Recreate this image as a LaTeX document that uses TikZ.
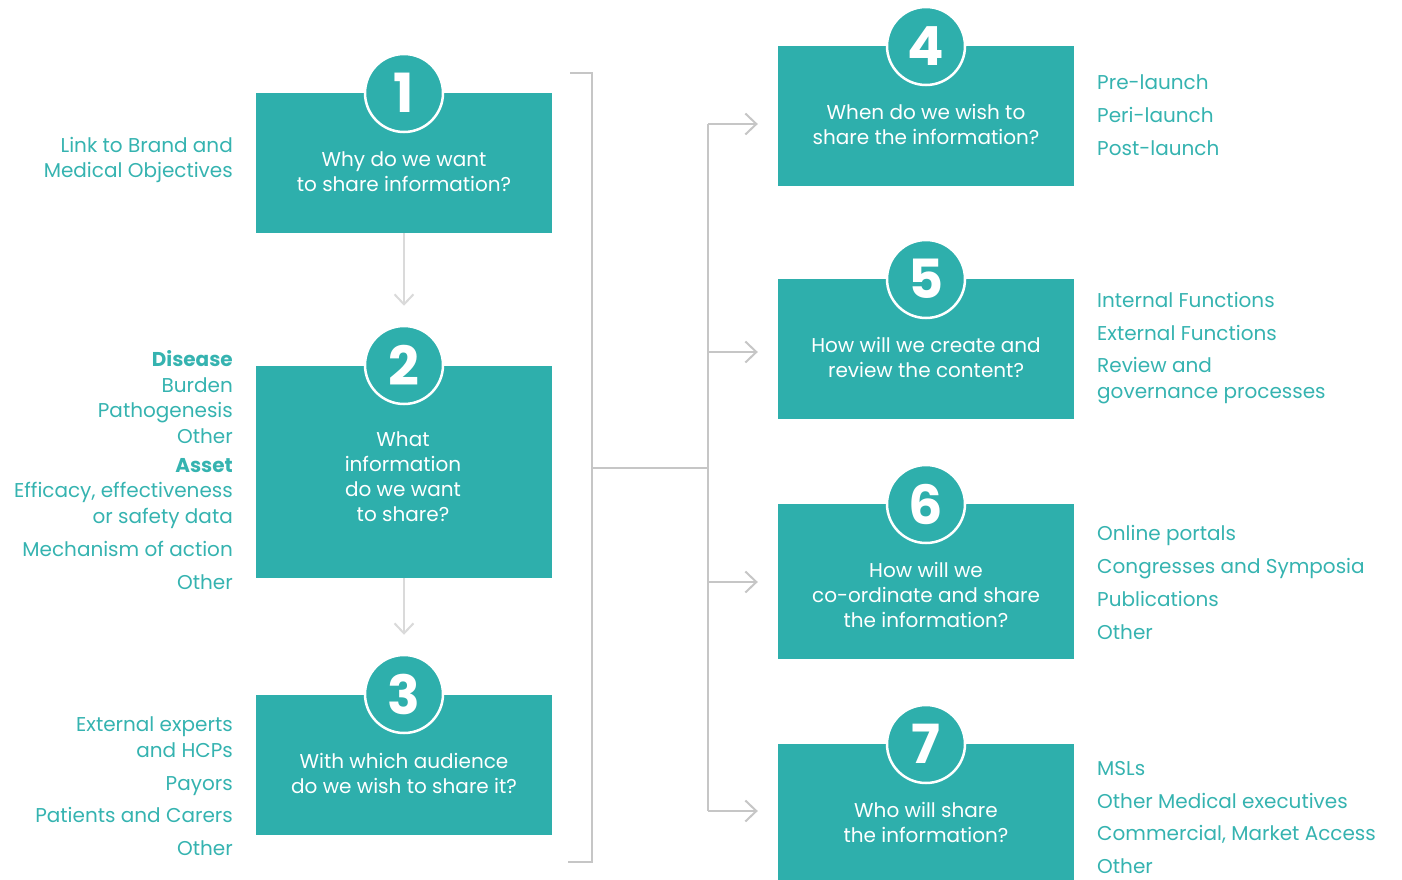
\documentclass[tikz,border=0pt]{standalone}
\usepackage{fontspec}
\setmainfont{Poppins}
\usetikzlibrary{arrows.meta,calc}
\definecolor{teal1}{HTML}{2EAFAC}
\definecolor{tealtxt}{HTML}{35B3B0}
\definecolor{linegray}{HTML}{C6C6C6}
\definecolor{lightgray2}{HTML}{DADADA}
\begin{document}
\begin{tikzpicture}[x=1pt,y=-1pt,
  qbox/.style={fill=teal1, draw=none, minimum width=296pt, inner sep=0pt},
  qtext/.style={text=white, align=center, font=\fontsize{20}{25}\selectfont, inner sep=0pt},
  numcirc/.style={circle, fill=teal1, draw=white, line width=2.5pt, minimum size=78pt, inner sep=0pt, text=white, font=\fontsize{54}{54}\selectfont\bfseries},
  lefttxt/.style={text=tealtxt, align=right, anchor=east, font=\fontsize{20}{25.5}\selectfont, inner sep=0pt},
  righttxt/.style={text=tealtxt, align=left, anchor=west, font=\fontsize{20}{25.5}\selectfont, inner sep=0pt},
  oneline/.style={text height=14pt, text depth=0pt},
  link/.style={draw=linegray, line width=2pt},
  arr/.style={draw=linegray, line width=2pt, -{Straight Barb[length=11pt,width=21pt,line width=2pt]}},
  downarr/.style={draw=lightgray2, line width=2pt, -{Straight Barb[length=10pt,width=19pt,line width=2pt]}}
]
\useasboundingbox (0,0) rectangle (1402,880);

% left boxes
\node[qbox, minimum height=140pt] (b1) at (404,163) {};
\node[qbox, minimum height=212pt] (b2) at (404,472) {};
\node[qbox, minimum height=140pt] (b3) at (404,765) {};
% right boxes
\node[qbox, minimum height=140pt] (b4) at (926,116) {};
\node[qbox, minimum height=140pt] (b5) at (926,349) {};
\node[qbox, minimum height=155pt] (b6) at (926,581.5) {};
\node[qbox, minimum height=140pt] (b7) at (926,814) {};

% box texts
\node[qtext] (q1) at (404,171.5) {Why do we want\\to share information?};
\node[qtext] (q2) at (403,477) {What\\information\\do we want\\to share?};
\node[qtext] (q3) at (404,773.5) {With which audience\\do we wish to share it?};
\node[qtext] (q4) at (926,124.5) {When do we wish to\\share the information?};
\node[qtext] (q5) at (926,357.5) {How will we create and\\review the content?};
\node[qtext] (q6) at (926,595) {How will we\\co-ordinate and share\\the information?};
\node[qtext] (q7) at (926,822.5) {Who will share\\the information?};

% number circles
\node[numcirc] (c1) at (404,93) {1};
\node[numcirc] (c2) at (404,365) {2};
\node[numcirc] (c3) at (404,694) {3};
\node[numcirc] (c4) at (926,46) {4};
\node[numcirc] (c5) at (926,279) {5};
\node[numcirc] (c6) at (926,504) {6};
\node[numcirc] (c7) at (926,744) {7};

% vertical arrows
\draw[downarr, shorten >=19pt] (b1.south) -- (c2.north);
\draw[downarr, shorten >=19pt] (b2.south) -- (c3.north);

% bracket
\coordinate (bt) at (570,73);
\coordinate (bb) at (568,862);
\coordinate (bm) at (592,468);
\coordinate (tm) at (708,468);
\draw[link] (bt) -- (592,73) -- (592,862) -- (bb);
\draw[link] (bm) -- (tm);
\coordinate (t4) at (708,124);
\coordinate (t5) at (708,352);
\coordinate (t6) at (708,582);
\coordinate (t7) at (708,811);
\draw[link] (t4) -- (t7);
\draw[arr, shorten >=20pt] (t4) -- (t4 -| b4.west);
\draw[arr, shorten >=20pt] (t5) -- (t5 -| b5.west);
\draw[arr, shorten >=20pt] (t6) -- (t6 -| b6.west);
\draw[arr, shorten >=20pt] (t7) -- (t7 -| b7.west);

% left texts
\node[lefttxt] (l1) at (233,160) {Link to Brand and\\Medical Objectives};
\node[lefttxt] (l2a) at (233,397) {\textbf{Disease}\\Burden\\Pathogenesis\\Other};
\node[lefttxt] (l2b) at (233,493.5) {\textbf{Asset}\\Efficacy, effectiveness\\or safety data};
\node[lefttxt, oneline] (l2c) at (233,549) {Mechanism of action};
\node[lefttxt, oneline] (l2d) at (233,582) {Other};
\node[lefttxt] (l3a) at (233,737) {External experts\\and HCPs};
\node[lefttxt, oneline] (l3b) at (233,783) {Payors};
\node[lefttxt, oneline] (l3c) at (233,815) {Patients and Carers};
\node[lefttxt, oneline] (l3d) at (233,848) {Other};

% right texts
\node[righttxt, oneline] (r4a) at (1097,83) {Pre-launch};
\node[righttxt, oneline] (r4b) at (1097,116) {Peri-launch};
\node[righttxt, oneline] (r4c) at (1097,148) {Post-launch};
\node[righttxt, oneline] (r5a) at (1097,300) {Internal Functions};
\node[righttxt, oneline] (r5b) at (1097,333) {External Functions};
\node[righttxt] (r5c) at (1097,380.5) {Review and\\governance processes};
\node[righttxt, oneline] (r6a) at (1097,533) {Online portals};
\node[righttxt, oneline] (r6b) at (1097,566) {Congresses and Symposia};
\node[righttxt, oneline] (r6c) at (1097,599) {Publications};
\node[righttxt, oneline] (r6d) at (1097,632) {Other};
\node[righttxt, oneline] (r7a) at (1097,768) {MSLs};
\node[righttxt, oneline] (r7b) at (1097,801) {Other Medical executives};
\node[righttxt, oneline] (r7c) at (1097,833) {Commercial, Market Access};
\node[righttxt, oneline] (r7d) at (1097,866) {Other};
\end{tikzpicture}
\end{document}
